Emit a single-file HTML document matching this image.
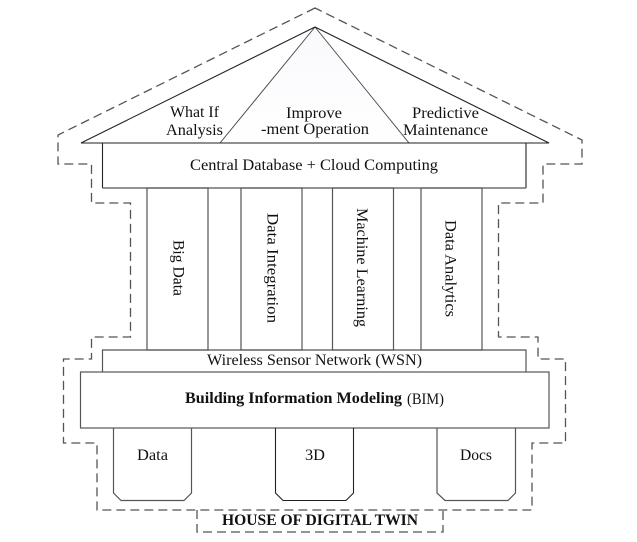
<!DOCTYPE html>
<html><head><meta charset="utf-8"><style>
html,body{margin:0;padding:0;background:#fff;width:637px;height:542px;overflow:hidden}
svg{display:block}
text{font-family:"Liberation Serif",serif;font-size:15.5px;fill:#111}
.b{font-weight:bold}
.s{fill:none;stroke:#222;stroke-width:1.1}
.t{fill:none;stroke:#444;stroke-width:.9}
.g{fill:none;stroke:#555;stroke-width:1.2}
.d{fill:none;stroke:#555;stroke-width:1.3;stroke-dasharray:9 5}
</style></head><body>
<svg width="637" height="542" viewBox="0 0 637 542" xmlns="http://www.w3.org/2000/svg">
<defs><linearGradient id="f" x1="0" y1="0" x2="0" y2="1"><stop offset="0" stop-color="#f9f9fd"/><stop offset="1" stop-color="#fff"/></linearGradient></defs>
<path class="d" d="M315 8L58 135V164H91.500V203H130.500V337H91.500V359H63.500V443H97V510H532V443H565.500V359H538V337H498.500V203H543V164H582V140L315 8Z"/>
<path class="d" d="M197 510V532H443V510"/>
<path d="M315 27L220 143H409Z" fill="url(#f)"/>
<path class="t" d="M315 27L220 143M315 27L409 143"/>
<path class="s" d="M81 143H549L315 27Z"/>
<path class="s" d="M102.500 143V188"/>
<path class="s" d="M526 143V188"/>
<path class="g" d="M102.500 188H526"/>
<rect class="g" x="147" y="188" width="61" height="162"/>
<rect class="g" x="241" y="188" width="61" height="162"/>
<rect class="g" x="332.500" y="188" width="61" height="162"/>
<rect class="g" x="421" y="188" width="61" height="162"/>
<path class="g" d="M102.500 372V350H526V372"/>
<rect class="g" x="80.500" y="372" width="468.500" height="56"/>
<path class="g" d="M113.500 428V493L121 500.500H184L191.500 493V428"/>
<path class="s" d="M275.500 428V493L283 500.500H346L353.500 493V428"/>
<path class="g" d="M437 428V493L445 500.500H508L515.500 493V428"/>
<text x="170" y="117" textLength="49" lengthAdjust="spacingAndGlyphs">What If</text>
<text x="166" y="135" textLength="57" lengthAdjust="spacingAndGlyphs">Analysis</text>
<text x="286" y="118" textLength="56" lengthAdjust="spacingAndGlyphs">Improve</text>
<text x="261" y="134" textLength="108" lengthAdjust="spacingAndGlyphs">-ment Operation</text>
<text x="412" y="118" textLength="67" lengthAdjust="spacingAndGlyphs">Predictive</text>
<text x="403" y="135" textLength="85" lengthAdjust="spacingAndGlyphs">Maintenance</text>
<text x="190" y="170" textLength="248" lengthAdjust="spacingAndGlyphs">Central Database + Cloud Computing</text>
<text transform="translate(173.500 240) rotate(90)" textLength="56" lengthAdjust="spacingAndGlyphs">Big Data</text>
<text transform="translate(267.500 213) rotate(90)" textLength="110" lengthAdjust="spacingAndGlyphs">Data Integration</text>
<text transform="translate(357 208) rotate(90)" textLength="119" lengthAdjust="spacingAndGlyphs">Machine Learning</text>
<text transform="translate(445.500 220) rotate(90)" textLength="97" lengthAdjust="spacingAndGlyphs">Data Analytics</text>
<text x="207" y="365" textLength="215" lengthAdjust="spacingAndGlyphs">Wireless Sensor Network (WSN)</text>
<text class="b" x="185" y="403" textLength="217" lengthAdjust="spacingAndGlyphs">Building Information Modeling</text>
<text x="407" y="404" textLength="37" lengthAdjust="spacingAndGlyphs">(BIM)</text>
<text x="137" y="460" textLength="31" lengthAdjust="spacingAndGlyphs">Data</text>
<text x="305" y="460" textLength="20" lengthAdjust="spacingAndGlyphs">3D</text>
<text x="460" y="460" textLength="32" lengthAdjust="spacingAndGlyphs">Docs</text>
<text class="b" x="222" y="525" textLength="196" lengthAdjust="spacingAndGlyphs">HOUSE OF DIGITAL TWIN</text>
</svg>
</body></html>
